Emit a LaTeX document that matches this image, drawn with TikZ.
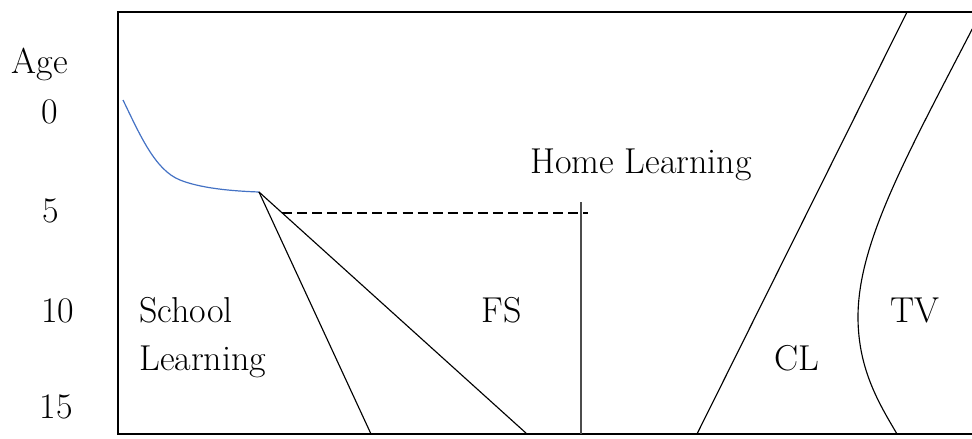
\documentclass[tikz,border=0pt]{standalone}
\usepackage{tikz}
\definecolor{curveblue}{RGB}{68,114,196}
\begin{document}
\begin{tikzpicture}[x=0.75pt,y=-0.75pt,
  lbl/.style={font=\fontsize{27}{31}\selectfont, inner sep=0pt, anchor=base},
  frame/.style={line width=2.2pt, line cap=rect},
  thin/.style={line width=0.85pt},
  band/.style={line width=0.85pt}]
\useasboundingbox (0,0) rectangle (972,439);
\clip (0,0) rectangle (972,439);
% frame
\coordinate (tr) at (980,12);
\coordinate (tl) at (118,12);
\coordinate (bl) at (118,434);
\coordinate (br) at (980,434);
\draw[frame] (tr) -- (tl) -- (bl) -- (br);
% age labels
\node[lbl] (age) at (40,73) {Age};
\node[lbl] (a0) at (50,123) {0};
\node[lbl] (a5) at (51,222) {5};
\node[lbl] (a10) at (58,322) {10};
\node[lbl] (a15) at (56,418) {15};
% region labels
\node[lbl, anchor=base west] (school) at (139,322) {School};
\node[lbl, anchor=base west] (learn) at (139,370) {Learning};
\node[lbl] (fs) at (502,322) {FS};
\node[lbl] (home) at (641,173) {Home Learning};
\node[lbl] (cl) at (797,370) {CL};
\node[lbl] (tv) at (915,322) {TV};
% blue curve
\coordinate (c0) at (123,100);
\coordinate (c1) at (180,180);
\coordinate (split) at (259,192);
\draw[curveblue, line width=0.9pt] (c0) .. controls (140,135) and (155,170) .. (c1)
   .. controls (200,188) and (230,191) .. (split);
% diverging lines
\coordinate (s1) at (371,434);
\coordinate (s2) at (527,434);
\draw[thin] (split) -- (s1);
\draw[thin] (split) -- (s2);
% dashed line and vertical
\coordinate (d0) at (282,213);
\coordinate (d1) at (588,213);
\draw[dash pattern=on 7.5pt off 3.8pt, line width=1pt] (d0) -- (d1);
\coordinate (v0) at (581,202);
\coordinate (v1) at (581,434);
\draw[black!70, line width=1pt] (v0) -- (v1);
% CL line
\coordinate (cl0) at (907,12);
\coordinate (cl1) at (697,434);
\draw[band] (cl0) -- (cl1);
% TV curve
\coordinate (tv0) at (980,14);
\coordinate (tvm) at (858,317);
\coordinate (tv1) at (897,434);
\draw[band] (tv0) .. controls (910,150) and (858,240) .. (tvm)
   .. controls (858,370) and (880,405) .. (tv1);
\end{tikzpicture}
\end{document}
